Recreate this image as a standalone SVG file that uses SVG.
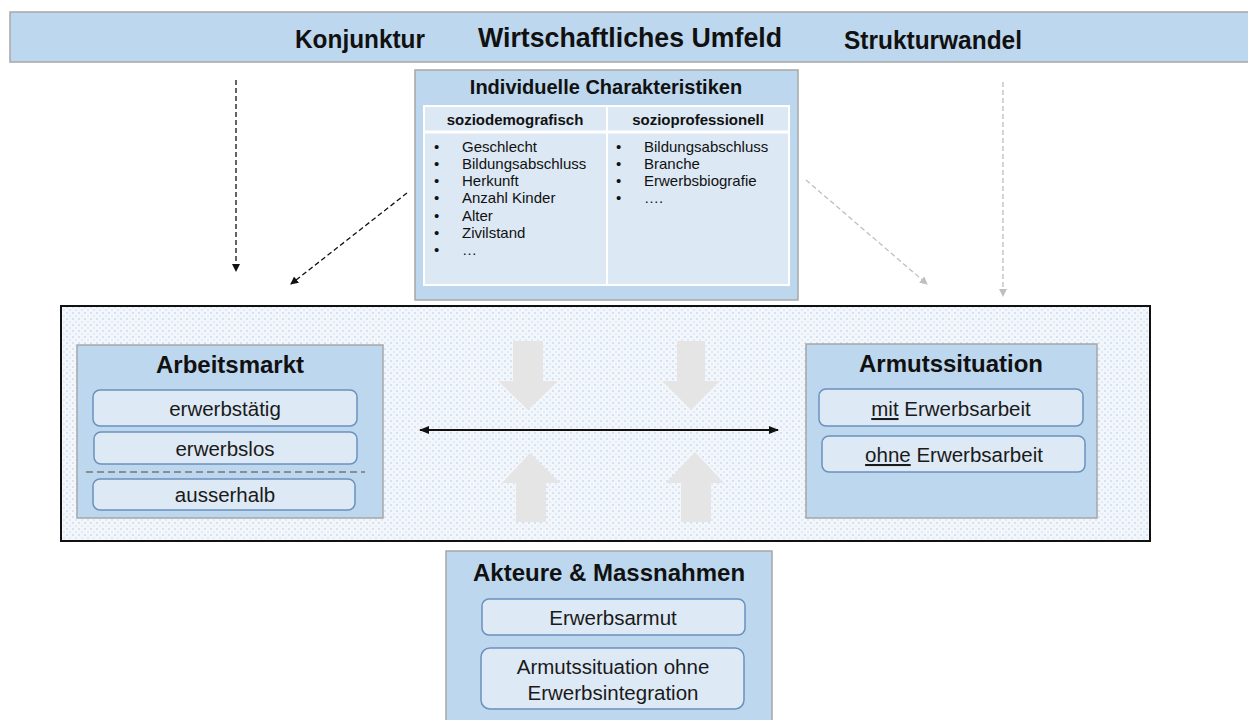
<svg xmlns="http://www.w3.org/2000/svg" width="1248" height="720" viewBox="0 0 1248 720">
<style>
text{font-family:"Liberation Sans",Arial,sans-serif;fill:#111}
.panel{fill:#bdd7ee;stroke:#a6a6a6;stroke-width:1.5}
.sub{fill:#dde9f5;stroke:#6a91bd;stroke-width:1.5}
.title{font-weight:bold;text-anchor:middle}
.item{font-size:20.5px;text-anchor:middle;fill:#1a1a1a}
.li{font-size:15px;fill:#222}
.hd{font-size:15px;font-weight:bold;text-anchor:middle}
.blk{fill:#e5e5e5}
</style>
<defs>
<pattern id="dots" width="6" height="6" patternUnits="userSpaceOnUse">
<rect width="6" height="6" fill="#f3f7fc"/>
<rect x="0" y="0" width="2" height="2" fill="#d3e3f4"/>
<rect x="3" y="3" width="2" height="2" fill="#e0ebf7"/>
</pattern>
<marker id="ahb" markerWidth="8" markerHeight="8" refX="7" refY="4" orient="auto" markerUnits="userSpaceOnUse">
<path d="M0,0 L8,4 L0,8 Z" fill="#111"/>
</marker>
<marker id="ahg" markerWidth="8" markerHeight="8" refX="7" refY="4" orient="auto" markerUnits="userSpaceOnUse">
<path d="M0,0 L8,4 L0,8 Z" fill="#bfbfbf"/>
</marker>
<marker id="dbl" markerWidth="10" markerHeight="8" refX="9" refY="4" orient="auto-start-reverse" markerUnits="userSpaceOnUse">
<path d="M0,0 L10,4 L0,8 Z" fill="#111"/>
</marker>
</defs>

<g id="umfeld">
<rect x="10" y="12" width="1250" height="50" class="panel"/>
<text x="360" y="48" font-size="25" font-weight="bold" text-anchor="middle" textLength="130" lengthAdjust="spacingAndGlyphs">Konjunktur</text>
<text x="630" y="47" font-size="28" font-weight="bold" text-anchor="middle" textLength="304" lengthAdjust="spacingAndGlyphs">Wirtschaftliches Umfeld</text>
<text x="933" y="49" font-size="25" font-weight="bold" text-anchor="middle" textLength="178" lengthAdjust="spacingAndGlyphs">Strukturwandel</text>
</g>

<g id="charakteristiken">
<rect x="415" y="70" width="383" height="230" class="panel"/>
<text x="606" y="94" class="title" font-size="20">Individuelle Charakteristiken</text>
<rect x="424" y="106" width="365" height="179" fill="#dce8f4" stroke="#ffffff" stroke-width="2"/>
<line x1="424" y1="132" x2="789" y2="132" stroke="#ffffff" stroke-width="3"/>
<line x1="607" y1="106" x2="607" y2="285" stroke="#ffffff" stroke-width="2"/>
<text x="515" y="125" class="hd">soziodemografisch</text>
<text x="698" y="125" class="hd">sozioprofessionell</text>
<g class="li">
<text x="434" y="152">•</text><text x="462" y="152">Geschlecht</text>
<text x="434" y="169">•</text><text x="462" y="169">Bildungsabschluss</text>
<text x="434" y="186">•</text><text x="462" y="186">Herkunft</text>
<text x="434" y="203">•</text><text x="462" y="203">Anzahl Kinder</text>
<text x="434" y="221">•</text><text x="462" y="221">Alter</text>
<text x="434" y="238">•</text><text x="462" y="238">Zivilstand</text>
<text x="434" y="255">•</text><text x="462" y="255" fill="#888">…</text>
<text x="616" y="152">•</text><text x="644" y="152">Bildungsabschluss</text>
<text x="616" y="169">•</text><text x="644" y="169">Branche</text>
<text x="616" y="186">•</text><text x="644" y="186">Erwerbsbiografie</text>
<text x="616" y="203">•</text><text x="644" y="203" fill="#888">….</text>
</g>
</g>

<g id="rahmen">
<rect x="61" y="306" width="1089" height="235" fill="url(#dots)" stroke="#111" stroke-width="2"/>
</g>

<g id="blockpfeile">
<path class="blk" d="M513,341 H543 V381 H558 L528,410 L498,381 H513 Z"/>
<path class="blk" d="M677,341 H705 V381 H720 L691,410 L662,381 H677 Z"/>
<path class="blk" d="M516,522 H546 V483 H560 L530,453 L502,483 H516 Z"/>
<path class="blk" d="M681,522 H711 V483 H724 L695,452 L666,483 H681 Z"/>
</g>

<g id="arbeitsmarkt">
<rect x="77" y="345" width="306" height="173" class="panel"/>
<text x="230" y="373" class="title" font-size="24">Arbeitsmarkt</text>
<rect x="93" y="390" width="264" height="36" rx="7" class="sub"/>
<text x="225" y="416" class="item">erwerbstätig</text>
<rect x="94" y="432" width="263" height="32" rx="7" class="sub"/>
<text x="225" y="456" class="item">erwerbslos</text>
<line x1="86" y1="472" x2="365" y2="472" stroke="#777" stroke-width="1.5" stroke-dasharray="7,4"/>
<rect x="93" y="479" width="262" height="31" rx="7" class="sub"/>
<text x="225" y="502" class="item">ausserhalb</text>
</g>

<g id="armutssituation">
<rect x="806" y="344" width="291" height="174" class="panel"/>
<text x="951" y="372" class="title" font-size="24">Armutssituation</text>
<rect x="819" y="389" width="264" height="37" rx="7" class="sub"/>
<text x="951" y="416" class="item"><tspan text-decoration="underline">mit</tspan> Erwerbsarbeit</text>
<rect x="822" y="436" width="263" height="36" rx="7" class="sub"/>
<text x="954" y="462" class="item"><tspan text-decoration="underline">ohne</tspan> Erwerbsarbeit</text>
</g>

<g id="akteure">
<rect x="446" y="551" width="326" height="180" class="panel"/>
<text x="609" y="581" class="title" font-size="24">Akteure &amp; Massnahmen</text>
<rect x="482" y="599" width="263" height="36" rx="7" class="sub"/>
<text x="613" y="625" class="item">Erwerbsarmut</text>
<rect x="481" y="648" width="263" height="61" rx="9" class="sub"/>
<text x="613" y="674" class="item">Armutssituation ohne</text>
<text x="613" y="700" class="item">Erwerbsintegration</text>
</g>

<g id="connectors">
<line x1="236" y1="80" x2="236" y2="271" stroke="#111" stroke-width="1.3" stroke-dasharray="5,3" marker-end="url(#ahb)"/>
<line x1="407" y1="193" x2="291" y2="284" stroke="#111" stroke-width="1.3" stroke-dasharray="5,3" marker-end="url(#ahb)"/>
<line x1="806" y1="180" x2="927" y2="284" stroke="#bfbfbf" stroke-width="1.3" stroke-dasharray="5,3" marker-end="url(#ahg)"/>
<line x1="1003" y1="82" x2="1003" y2="296" stroke="#bfbfbf" stroke-width="1.3" stroke-dasharray="5,3" marker-end="url(#ahg)"/>
<line x1="420" y1="430" x2="778" y2="430" stroke="#111" stroke-width="1.8" marker-start="url(#dbl)" marker-end="url(#dbl)"/>
</g>
</svg>
